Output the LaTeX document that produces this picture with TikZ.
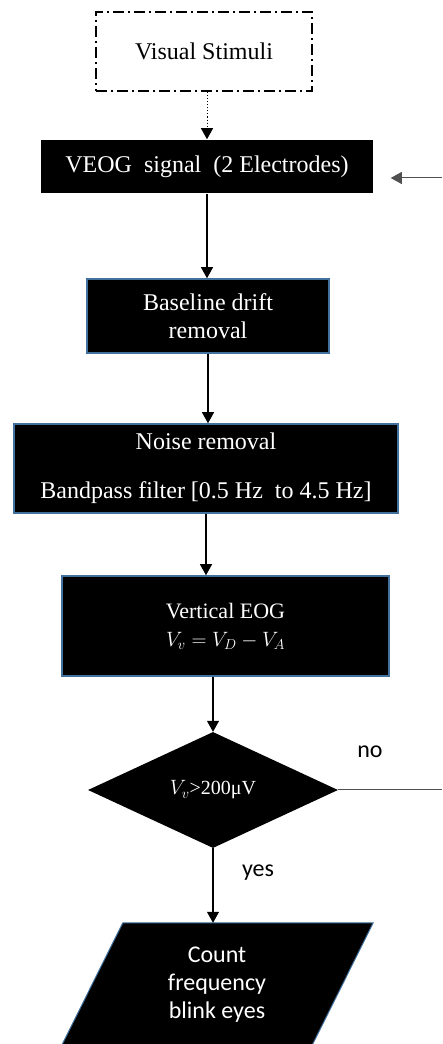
\documentclass[tikz,border=0pt]{standalone}
\usepackage{fontspec}
\setmainfont{Liberation Serif}
\newfontfamily\calfont{Carlito}
\usetikzlibrary{arrows.meta}
\usetikzlibrary{shapes.geometric}
\usetikzlibrary{calc}
\usetikzlibrary{backgrounds}

\definecolor{boxline}{HTML}{41719C}
\definecolor{linegray}{HTML}{505050}

\begin{document}
\begin{tikzpicture}[x=1pt,y=1pt]
	\tikzstyle{stim}=[draw,line width=1.4pt,dash pattern=on 11pt off 4pt on 2pt off 4pt,minimum width=216pt,minimum height=79pt,font=\fontsize{24}{28}\selectfont]
	\tikzstyle{blk}=[fill=black,text=white,draw=boxline,line width=1.5pt,align=center,font=\fontsize{24}{28}\selectfont]
	\tikzstyle{dec}=[diamond,fill=black,text=white,inner sep=0pt,aspect=2.155,minimum width=250pt,minimum height=116pt,font=\fontsize{20}{24}\selectfont]
	\tikzstyle{outp}=[text=white,align=center,minimum width=250pt,minimum height=124pt,font=\calfont\fontsize{24}{28}\selectfont]
	\tikzstyle{arr}=[-{Triangle[width=12pt,length=11pt]},line width=1.1pt]
	\tikzstyle{lbl}=[font=\calfont\fontsize{24}{28}\selectfont]
	\useasboundingbox (0,0) rectangle (442,1044);
	% boxes
	\node[stim] (stim) at (204,992.5) {Visual Stimuli};
	\node[blk,draw=none,minimum width=332pt,minimum height=53pt] (veog) at (207,877.5) {VEOG\ \ signal\ \ (2 Electrodes)};
	\node[blk,minimum width=242pt,minimum height=74pt] (base) at (208,728) {Baseline drift\\removal};
	\node[blk,minimum width=384pt,minimum height=89pt] (noise) at (206,575.5) {Noise removal\\[21pt]Bandpass filter [0.5 Hz\ \ to 4.5 Hz]};
	\node[blk,minimum width=327pt,minimum height=100pt,font=\fontsize{22}{28}\selectfont] (vert) at (225.5,418) {Vertical EOG\\$V_v=V_D-V_A$};
	\node[dec] (dec) at (213,254) {$V_v$>200μV};
	\node[outp] (out) at (217,59) {Count\\frequency\\blink eyes};
	\begin{scope}[on background layer]
		\filldraw[fill=black,draw=boxline,line width=1pt] ($(out.north west)+(31,0)$) -- ($(out.north east)+(31,0)$) -- ($(out.south east)+(-31,0)$) -- ($(out.south west)+(-31,0)$) -- cycle;
	\end{scope}
	% loop ends
	\coordinate (fbin) at (442,866);
	\coordinate (fbout) at (442,254);
	% arrows
	\draw[arr,dotted,line width=1pt] (stim.south -| veog.north) -- (veog.north);
	\draw[arr] (veog.south) -- (veog.south |- base.north);
	\draw[arr] (base.south) -- (base.south |- noise.north);
	\draw[arr] (noise.south) -- (noise.south |- vert.north);
	\draw[arr] (vert.south -| dec.north) -- (dec.north);
	\draw[arr] (dec.south) -- (dec.south |- out.north);
	\draw[arr,linegray,line width=1pt,shorten >=17pt] (fbin) -- (fbin -| veog.east);
	\draw[linegray,line width=1pt] (dec.east) -- (fbout);
	\node[lbl] (no) at (370,292) {no};
	\node[lbl] (yes) at (258,171) {yes};
\end{tikzpicture}
\end{document}
